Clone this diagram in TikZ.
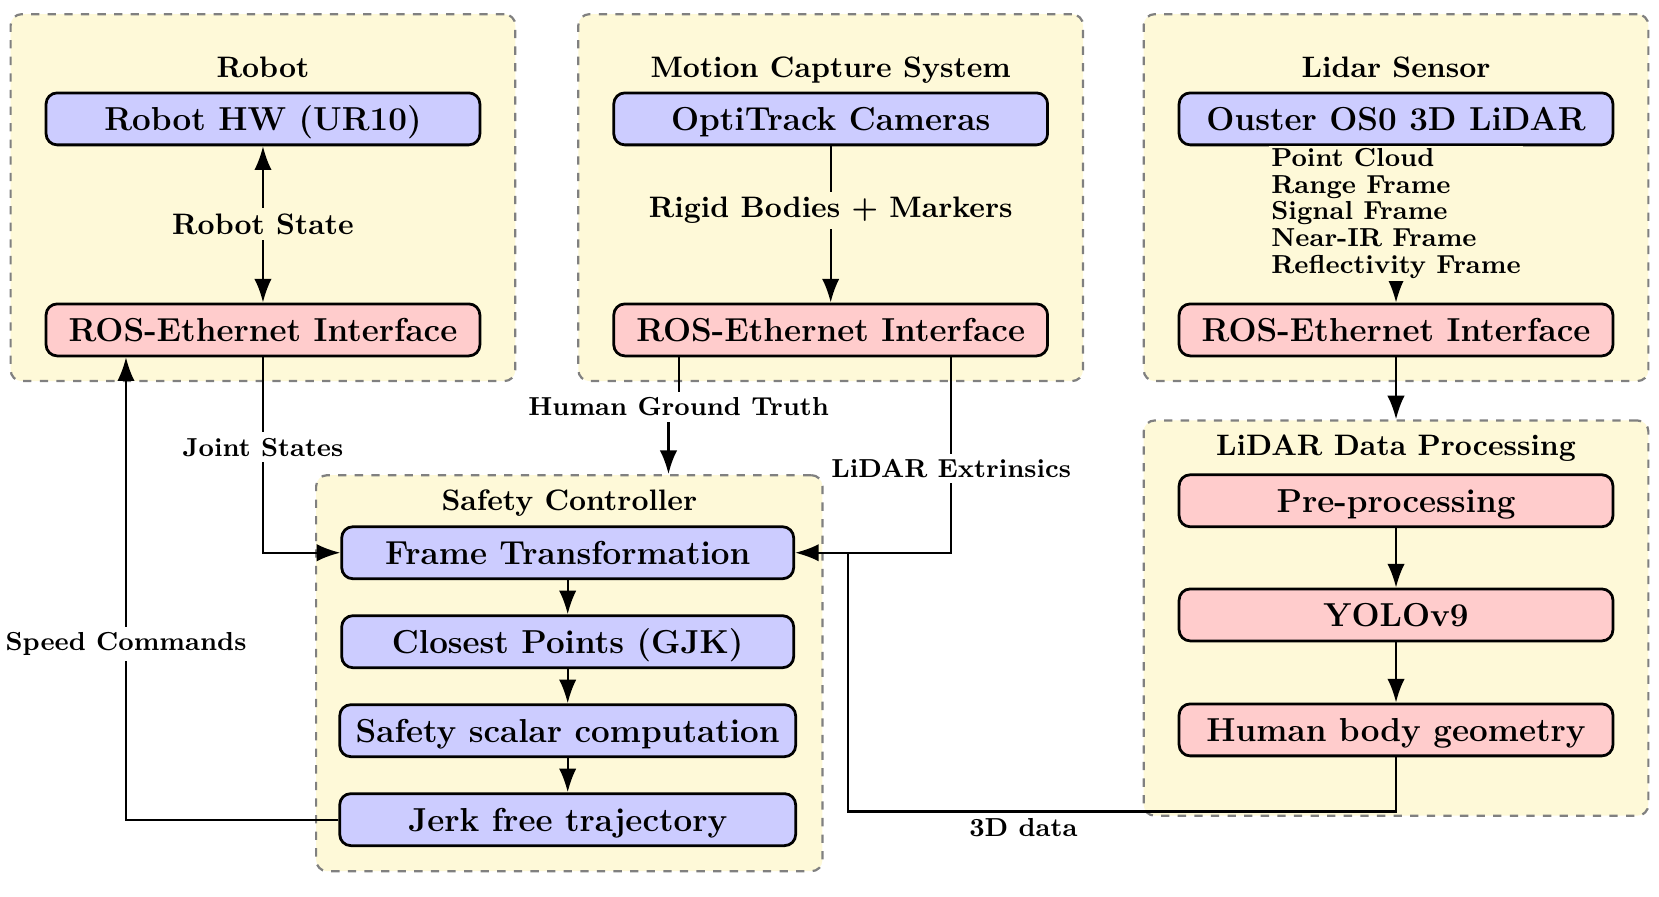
\documentclass[tikz,border=0pt]{standalone}
\usepackage{tikz}
\usetikzlibrary{arrows.meta,positioning}
\definecolor{grpyellow}{HTML}{FEF9D8}
\definecolor{hwblue}{HTML}{CCCCFF}
\definecolor{rosred}{HTML}{FFCCCC}

\begin{document}
\begin{tikzpicture}[>={Latex[length=3mm,width=2.2mm]}]
    \tikzset{
      grp/.style={draw=gray, dashed, thick, rounded corners=4pt,
        fill=grpyellow, minimum width=6.41cm, minimum height=4.66cm},
      blk/.style={draw, line width=1pt, rounded corners=4pt,
        font=\large\bfseries, minimum width=5.51cm,
        minimum height=0.66cm, inner ysep=2pt,
        text height=8.2pt, text depth=0pt},
      hw/.style={blk, fill=hwblue},
      ros/.style={blk, fill=rosred},
      sc/.style={hw, minimum width=5.74cm},
      ttl/.style={font={\fontsize{10.7}{12}\selectfont\bfseries}, anchor=base},
      lbl/.style={font={\fontsize{10.7}{12}\selectfont\bfseries}, fill=grpyellow, inner sep=2pt},
      olbl/.style={font={\fontsize{9.4}{11}\selectfont\bfseries}, fill=white, inner sep=2pt}}
    \useasboundingbox (0,0) rectangle (21.07,-11.38);
    % groups
    \node[grp] (grobot) at (3.34,-2.51) {};
    \node[grp] (gmocap) at (10.55,-2.51) {};
    \node[grp] (glidar) at (17.73,-2.51) {};
    \node[grp, minimum height=5.02cm] (gproc) at (17.73,-7.85) {};
    \node[grp, minimum width=6.43cm, minimum height=5.03cm] (gsafe) at (7.23,-8.55) {};
    \node[ttl] (trobot) at (3.34,-0.98) {Robot};
    \node[ttl] (tmocap) at (10.55,-0.98) {Motion Capture System};
    \node[ttl] (tlidar) at (17.73,-0.98) {Lidar Sensor};
    \node[ttl] (tproc) at (17.73,-5.79) {LiDAR Data Processing};
    \node[ttl] (tsafe) at (7.23,-6.48) {Safety Controller};
    % blocks
    \node[hw] (robothw) at (3.34,-1.51) {Robot HW (UR10)};
    \node[ros] (rosr) at (3.34,-4.19) {ROS-Ethernet Interface};
    \node[hw] (opti) at (10.55,-1.51) {OptiTrack Cameras};
    \node[ros] (rosm) at (10.55,-4.19) {ROS-Ethernet Interface};
    \node[hw] (ouster) at (17.73,-1.51) {Ouster OS0 3D LiDAR};
    \node[ros] (rosl) at (17.73,-4.19) {ROS-Ethernet Interface};
    \node[ros] (prep) at (17.73,-6.36) {Pre-processing};
    \node[ros] (yolo) at (17.73,-7.81) {YOLOv9};
    \node[ros] (human) at (17.73,-9.27) {Human body geometry};
    \node[sc] (frame) at (7.21,-7.02) {Frame Transformation};
    \node[sc] (closest) at (7.21,-8.15) {Closest Points (GJK)};
    \node[sc, minimum width=5.79cm] (scalar) at (7.21,-9.28) {Safety scalar computation};
    \node[sc, minimum width=5.79cm] (jerk) at (7.21,-10.41) {Jerk free trajectory};
    \coordinate (tdjoin) at (10.77,-7.02);
    % connections
    \draw[<->, thick] (robothw) -- node[lbl] {Robot State} (rosr);
    \draw[->, thick] (opti) -- node[lbl, pos=0.41] {Rigid Bodies + Markers} (rosm);
    \draw[->, thick] (ouster) -- node[lbl, pos=0.43, align=left, inner sep=1pt,
      font={\fontsize{9.4}{9.6}\selectfont\bfseries}]
      {Point Cloud\\Range Frame\\Signal Frame\\Near-IR Frame\\Reflectivity Frame} (rosl);
    \draw[->, thick] (rosl) -- (gproc);
    \draw[->, thick] (prep) -- (yolo);
    \draw[->, thick] (yolo) -- (human);
    \draw[->, thick] (frame) -- (closest);
    \draw[->, thick] (closest) -- (scalar);
    \draw[->, thick] (scalar) -- (jerk);
    \draw[->, thick] (rosr) |- node[olbl, pos=0.23] {Joint States} (frame);
    \draw[->, thick] (jerk) -| node[olbl, pos=0.69] {Speed Commands} ([xshift=-1.74cm]rosr.south);
    \draw[->, thick] ([xshift=1.53cm]rosm.south) |- node[olbl, pos=0.285] {LiDAR Extrinsics} (frame);
    \node[olbl] (hgt) at (8.62,-5.17) {Human Ground Truth};
    \draw[thick] (hgt.north |- rosm.south) -- (hgt.north);
    \draw[->, thick] ([xshift=-0.13cm]hgt.south) -- ([xshift=-0.13cm]hgt.south |- gsafe.north);
    \draw[thick] (human.south) -- ++(0,-0.69) -| node[olbl, pos=0.34, below] {3D data} (tdjoin);
\end{tikzpicture}
\end{document}
